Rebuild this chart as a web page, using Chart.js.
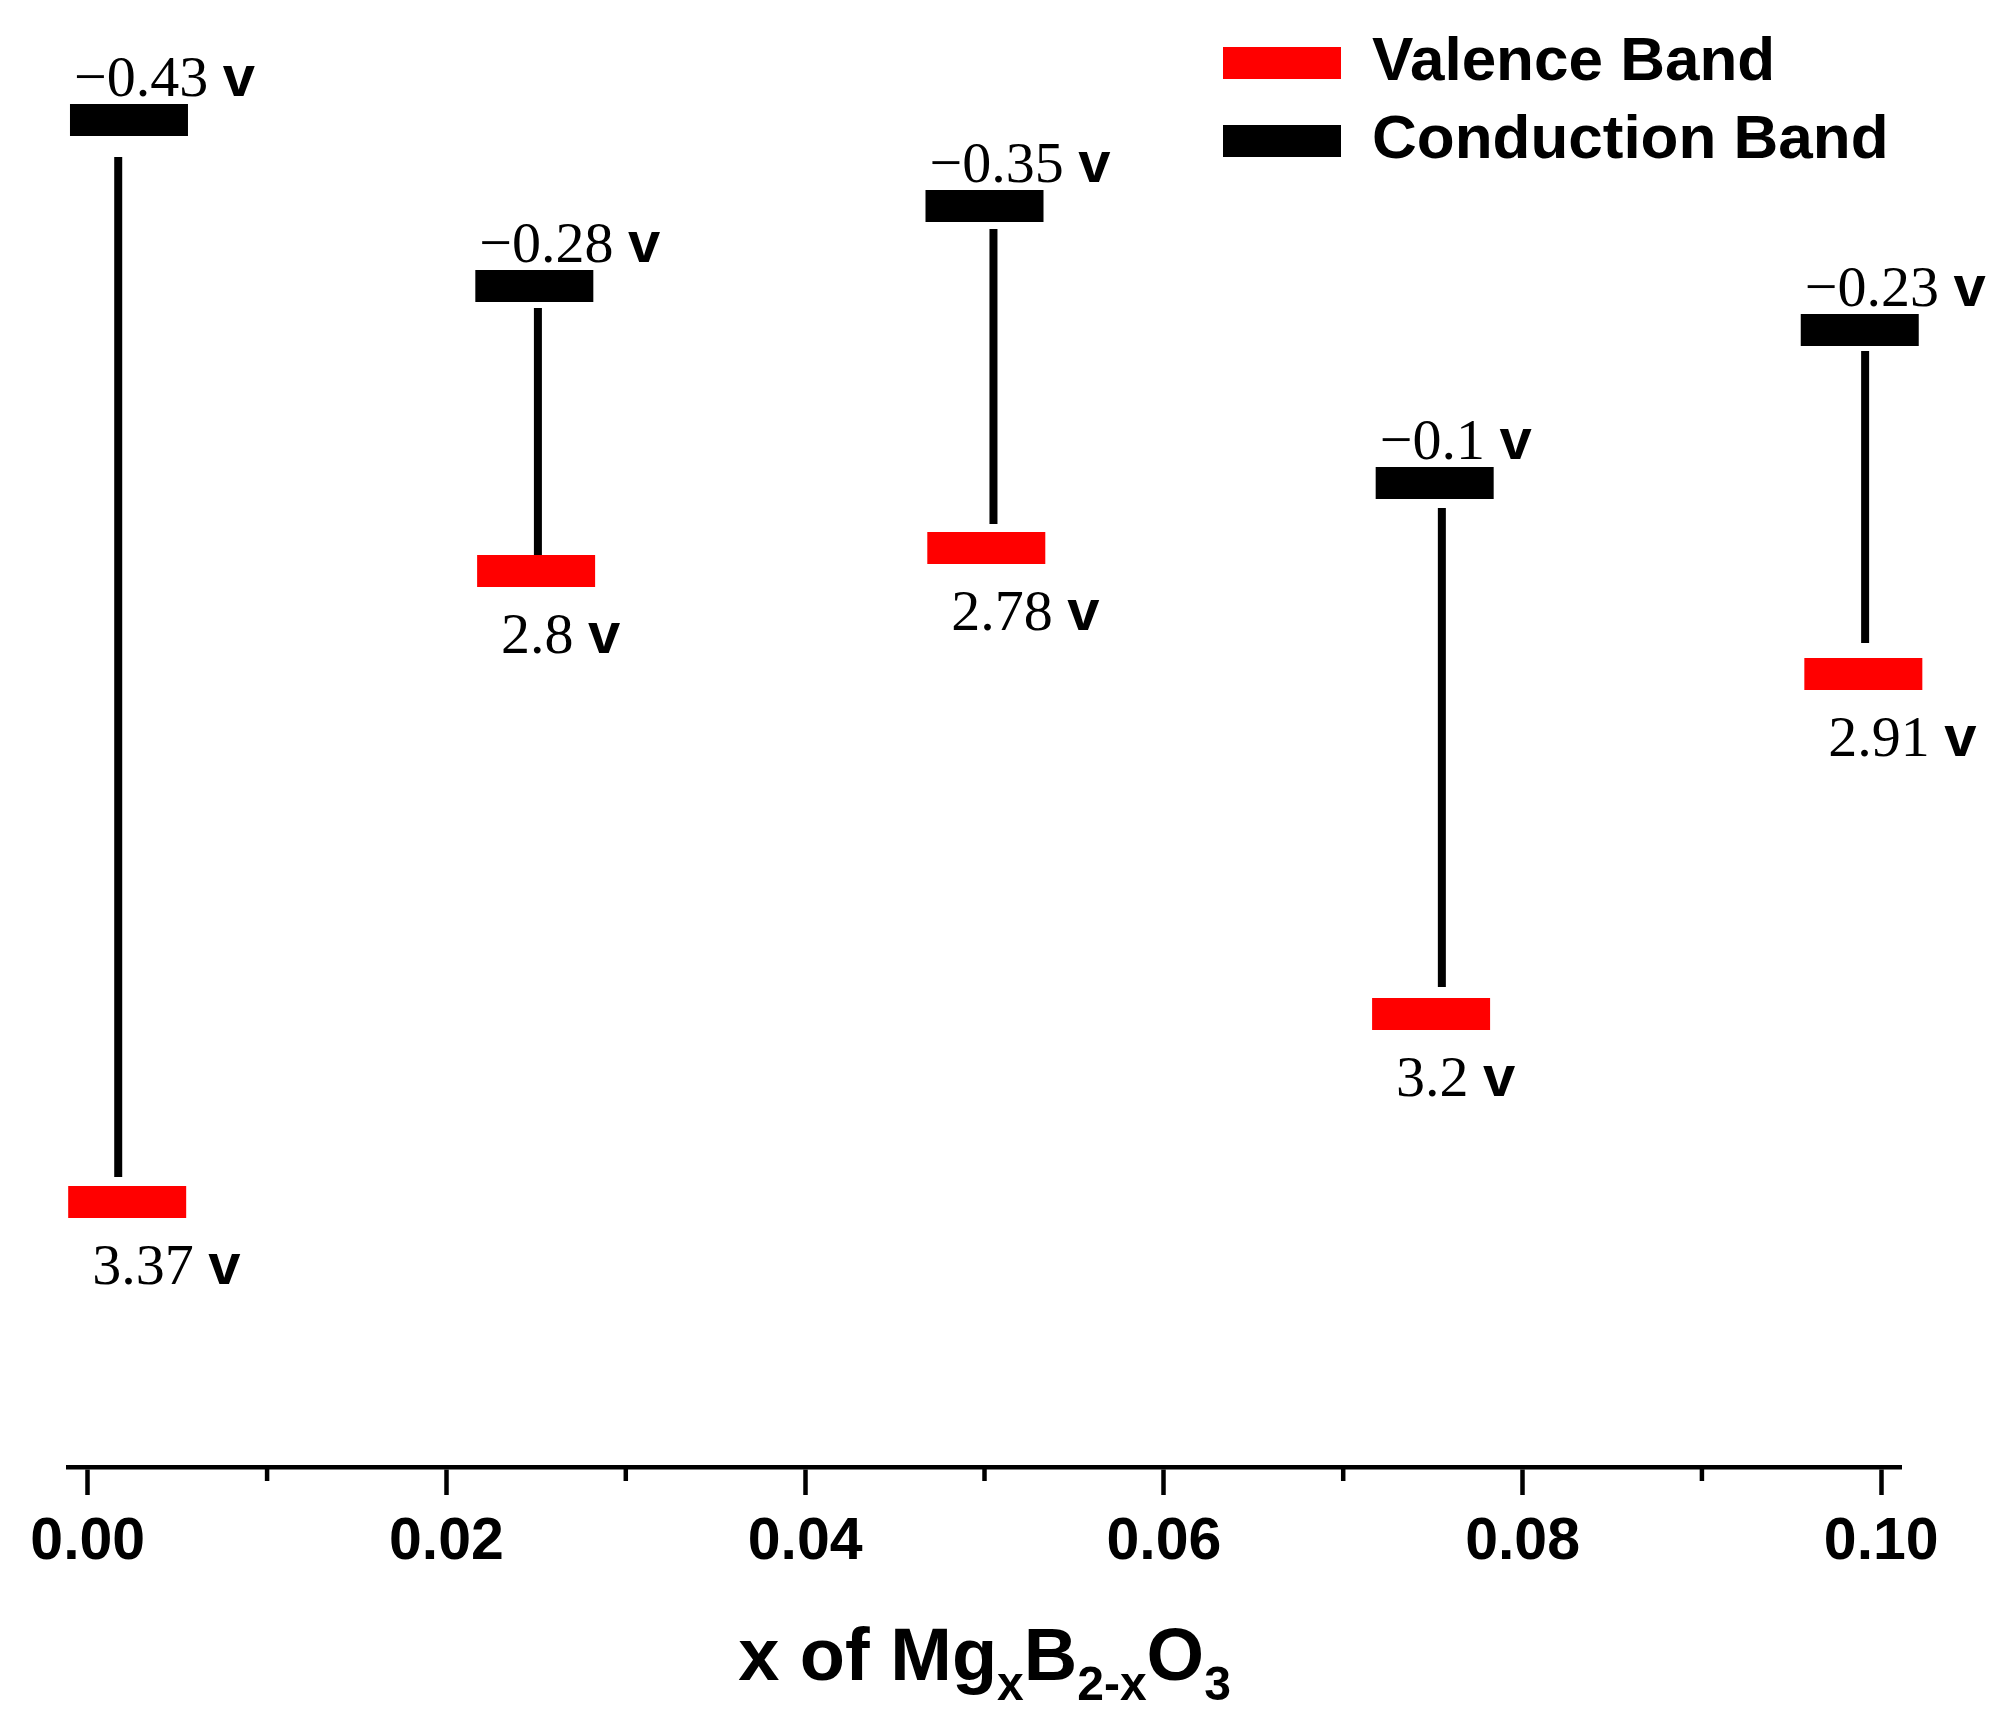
<!DOCTYPE html>
<html>
<head>
<meta charset="utf-8">
<title>Band edges of MgxB2-xO3</title>
<script src="https://cdn.jsdelivr.net/npm/chart.js@4.4.0/dist/chart.umd.min.js"></script>
<style>
  html, body { margin: 0; padding: 0; background: #fff; }
  canvas { display: block; }
</style>
</head>
<body>
<canvas id="bandChart" width="1993" height="1731"></canvas>
<script>
// sample position on the x axis (x of MgxB2-xO3)
const cbX = [0.0023, 0.0249, 0.0500, 0.0751, 0.0988];
const vbX = [0.0022, 0.0250, 0.0501, 0.0749, 0.0990];
const linkX = [0.0017, 0.0251, 0.0505, 0.0755, 0.0991];

// band edge potentials written next to each bar (V)
const cbPotential = [-0.43, -0.28, -0.35, -0.1, -0.23];
const vbPotential = [3.37, 2.8, 2.78, 3.2, 2.91];

// where each edge sits on the hidden vertical axis (arbitrary units, downward)
const cbLevel = [12.0, 28.6, 20.6, 48.3, 33.0];
const vbLevel = [120.2, 57.1, 54.8, 101.4, 67.4];
const linkTop = [15.7, 30.8, 22.9, 50.8, 35.1];
const linkBottom = [117.7, 55.5, 52.4, 98.7, 64.3];

// x axis ticks
const xTicks = [0, 0.02, 0.04, 0.06, 0.08, 0.10];
const xMinorTicks = [0.01, 0.03, 0.05, 0.07, 0.09];

const BAR_W = 118;
const BAR_H = 32;
const SANS = '"Liberation Sans", Arial, sans-serif';
const SERIF = '"Liberation Serif", "Times New Roman", serif';

function voltLabel(ctx, v, left, base) {
    const num = (v < 0 ? '\u2212' : '') + String(Math.abs(v));
    ctx.font = '58px ' + SERIF;
    ctx.fillText(num, left, base);
    const w = ctx.measureText(num + ' ').width;
    ctx.font = 'bold 58px ' + SANS;
    ctx.fillText('v', left + w, base);
}

const bandLabels = {
    id: 'bandLabels',
    afterDatasetsDraw(chart) {
        const { ctx, scales: { x, y } } = chart;
        ctx.save();
        ctx.fillStyle = '#000';
        ctx.textAlign = 'left';
        ctx.textBaseline = 'alphabetic';
        cbPotential.forEach((v, i) => {
            const left = x.getPixelForValue(cbX[i]) - BAR_W / 2 + 4;
            const top = y.getPixelForValue(cbLevel[i]) - BAR_H / 2;
            voltLabel(ctx, v, left, top - 8);
        });
        vbPotential.forEach((v, i) => {
            const left = x.getPixelForValue(vbX[i]) - BAR_W / 2 + 24;
            const bottom = y.getPixelForValue(vbLevel[i]) + BAR_H / 2;
            voltLabel(ctx, v, left, bottom + 66);
        });
        ctx.restore();
    }
};

const minorTicks = {
    id: 'minorTicks',
    afterDraw(chart) {
        const { ctx, scales: { x } } = chart;
        ctx.save();
        ctx.strokeStyle = '#000';
        ctx.lineWidth = 4.5;
        xMinorTicks.forEach(v => {
            const px = x.getPixelForValue(v);
            ctx.beginPath();
            ctx.moveTo(px, x.top);
            ctx.lineTo(px, x.top + 14);
            ctx.stroke();
        });
        ctx.restore();
    }
};

const axisTitle = {
    id: 'axisTitle',
    afterDraw(chart) {
        const { ctx, chartArea } = chart;
        const parts = [['x of Mg', false], ['x', true], ['B', false], ['2-x', true], ['O', false], ['3', true]];
        const fontFor = sub => 'bold ' + (sub ? 48 : 74) + 'px ' + SANS;
        ctx.save();
        ctx.fillStyle = '#000';
        ctx.textBaseline = 'alphabetic';
        ctx.textAlign = 'left';
        let total = 0;
        parts.forEach(([t, sub]) => { ctx.font = fontFor(sub); total += ctx.measureText(t).width; });
        let cx = (chartArea.left + chartArea.right) / 2 - total / 2;
        const base = chartArea.bottom + 213;
        parts.forEach(([t, sub]) => {
            ctx.font = fontFor(sub);
            ctx.fillText(t, cx, sub ? base + 20 : base);
            cx += ctx.measureText(t).width;
        });
        ctx.restore();
    }
};

// put the legend box in the upper right corner of the plot
const legendSpot = {
    id: 'legendSpot',
    beforeDraw(chart) {
        const lg = chart.legend;
        if (!lg) return;
        const pad = lg.options.labels.padding;
        lg.left = 1223 - pad;
        lg.top = 32 - pad;
    }
};

const linkSets = linkX.map((lx, i) => ({
    label: 'gap' + i,
    data: [{ x: lx, y: linkTop[i] }, { x: lx, y: linkBottom[i] }],
    showLine: true,
    borderColor: '#000',
    borderWidth: 8,
    pointRadius: 0,
    clip: false
}));

const ctx = document.getElementById('bandChart').getContext('2d');
const chart = new Chart(ctx, {
    type: 'scatter',
    data: {
        datasets: [
            {
                label: 'Valence Band',
                data: vbX.map((v, i) => ({ x: v, y: vbLevel[i] })),
                backgroundColor: '#ff0000',
                borderColor: '#ff0000',
                pointStyle: 'line',
                pointRadius: BAR_W / 2,
                pointBorderWidth: BAR_H,
                pointBorderColor: '#ff0000',
                clip: false
            },
            {
                label: 'Conduction Band',
                data: cbX.map((v, i) => ({ x: v, y: cbLevel[i] })),
                backgroundColor: '#000',
                borderColor: '#000',
                pointStyle: 'line',
                pointRadius: BAR_W / 2,
                pointBorderWidth: BAR_H,
                pointBorderColor: '#000',
                clip: false
            },
            ...linkSets
        ]
    },
    options: {
        responsive: false,
        devicePixelRatio: 1,
        animation: false,
        events: [],
        layout: { autoPadding: false, padding: { top: 0, left: 68, right: 92, bottom: 0 } },
        plugins: {
            tooltip: { enabled: false },
            legend: {
                position: 'chartArea',
                align: 'start',
                labels: {
                    boxWidth: BAR_W,
                    boxHeight: BAR_H,
                    padding: 16,
                    color: '#000',
                    font: { family: SANS, size: 62, weight: 'bold' },
                    generateLabels: (c) => c.data.datasets.slice(0, 2).map((ds, i) => ({
                        text: ds.label,
                        fillStyle: ds.backgroundColor,
                        strokeStyle: ds.backgroundColor,
                        lineWidth: 0,
                        hidden: false,
                        datasetIndex: i
                    }))
                }
            }
        },
        scales: {
            x: {
                type: 'linear',
                position: 'bottom',
                min: -0.0011,
                max: 0.1011,
                afterBuildTicks: (scale) => { scale.ticks = xTicks.map(v => ({ value: v })); },
                afterFit: (scale) => { scale.height = 264; },
                border: { display: true, color: '#000', width: 4.5 },
                grid: { drawOnChartArea: false, tickLength: 28, tickWidth: 4.5, tickColor: '#000' },
                ticks: {
                    padding: 12,
                    color: '#000',
                    font: { family: SANS, size: 59, weight: 'bold' },
                    callback: (v) => Number(v).toFixed(2)
                }
            },
            y: {
                type: 'linear',
                display: false,
                reverse: true,
                min: 0,
                max: 146.7
            }
        }
    },
    plugins: [legendSpot, bandLabels, minorTicks, axisTitle]
});
</script>
</body>
</html>
